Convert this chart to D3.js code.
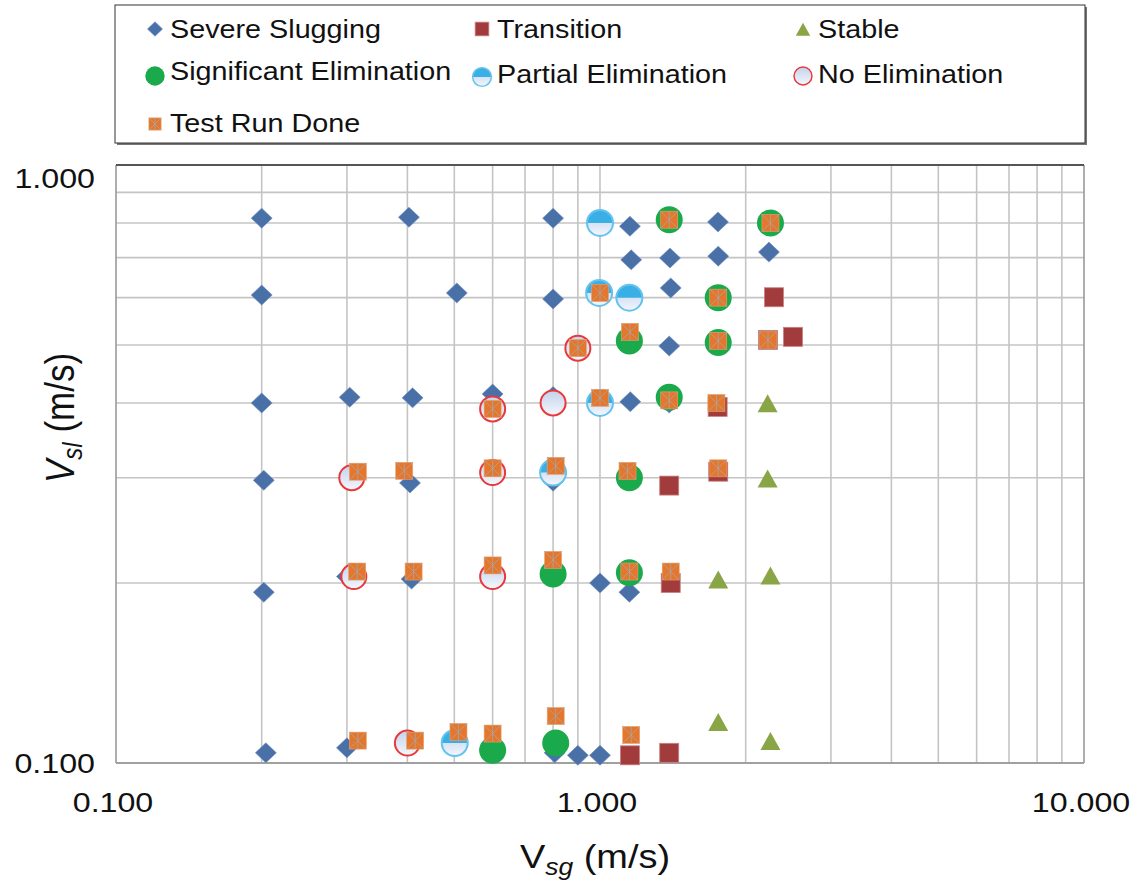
<!DOCTYPE html>
<html><head><meta charset="utf-8">
<script src="https://cdn.jsdelivr.net/npm/d3@7"></script>
<style>
body{margin:0;background:#fff}
svg{display:block}
text{font-family:"Liberation Sans",Arial,Helvetica,sans-serif;fill:#111}
</style>
</head><body><svg id="c" width="1148" height="882"></svg>
<script>
// ---------- DATA (Vsg, Vsl in m/s) ----------
const seriesNames = ["Severe Slugging","Transition","Stable","Significant Elimination","Partial Elimination","No Elimination","Test Run Done"];

const severeVsg = [0.20,0.20,0.20,0.202,0.202,0.204,0.304,0.30,0.30,0.403,0.41,0.405,0.408,0.506,0.60,0.80,0.80,0.80,0.80,0.806,0.90,1.0,1.0,1.153,1.16,1.155,1.15,1.395,1.40,1.39,1.39,1.753,1.755,2.234];
const severeVsl = [0.815,0.606,0.40,0.297,0.193,0.104,0.409,0.106,0.205,0.818,0.408,0.294,0.203,0.611,0.414,0.815,0.597,0.41,0.296,0.104,0.103,0.103,0.20,0.79,0.694,0.402,0.193,0.699,0.623,0.498,0.40,0.803,0.704,0.715];

const transVsg = [2.288,2.505,2.224,1.75,1.39,1.755,1.40,1.153,1.39];
const transVsl = [0.601,0.516,0.51,0.394,0.291,0.307,0.20,0.103,0.104];

const stableVsg = [2.22,2.22,1.755,2.25,1.755,2.25];
const stableVsl = [0.398,0.298,0.202,0.205,0.1166,0.1084];

const sigVsg = [1.39,2.25,1.755,1.15,1.755,1.39,1.15,0.80,1.15,0.81,0.60];
const sigVsl = [0.81,0.80,0.60,0.508,0.505,0.409,0.30,0.207,0.208,0.108,0.105];

const partVsg = [1.0,0.996,1.15,1.0,0.80,0.501];
const partVsl = [0.80,0.611,0.60,0.40,0.306,0.108];

const noVsg = [0.90,0.60,0.80,0.307,0.60,0.31,0.60,0.40];
const noVsl = [0.494,0.391,0.40,0.30,0.306,0.205,0.205,0.108];

const testVsg = [1.39,2.25,1.0,1.755,1.153,1.755,2.224,0.90,1.0,1.39,1.74,0.60,
                 0.316,0.394,0.60,0.81,1.14,1.755,
                 0.315,0.412,0.60,0.80,1.15,1.40,
                 0.316,0.415,0.51,0.60,0.81,1.16];
const testVsl = [0.81,0.80,0.611,0.60,0.526,0.508,0.51,0.494,0.408,0.404,0.40,0.391,
                 0.307,0.308,0.311,0.314,0.308,0.311,
                 0.209,0.209,0.214,0.2186,0.209,0.209,
                 0.109,0.109,0.1127,0.112,0.1198,0.1114];

const xTickValues = [0.1,1,10];
const xTickLabels = ["0.100","1.000","10.000"];
const yTickValues = [0.1,1];
const yTickLabels = ["0.100","1.000"];

// ---------- SETUP ----------
const svg = d3.select("#c");
const SX = 1.15; // horizontal stretch of the text in the reference
const x = d3.scaleLog().domain([0.1,10]).range([116,1084]);
const y = d3.scaleLog().domain([0.1,1]).range([763,165]);

const defs = svg.append("defs");
const g1 = defs.append("linearGradient").attr("id","lightFill").attr("x1",0).attr("y1",0).attr("x2",0).attr("y2",1);
g1.append("stop").attr("offset","0%").attr("stop-color","#c3d2ec");
g1.append("stop").attr("offset","100%").attr("stop-color","#f4f7fc");
const g2 = defs.append("linearGradient").attr("id","partFill").attr("x1",0).attr("y1",0).attr("x2",0).attr("y2",1);
g2.append("stop").attr("offset","0%").attr("stop-color","#b9cdee");
g2.append("stop").attr("offset","100%").attr("stop-color","#f4f7fc");

function stext(parent, px, py, str, size, anchor){
  const g = parent.append("g").attr("transform",`translate(${px},${py}) scale(${SX},1)`);
  return g.append("text").attr("font-size",size).attr("text-anchor",anchor||"start").text(str);
}

// ---------- MARKERS ----------
function diamond(g, s){ g.append("path").attr("d",`M0,${-10*s}L${10.5*s},0L0,${10*s}L${-10.5*s},0Z`).attr("fill","#4a70a8").attr("stroke","#6f8fc0").attr("stroke-width",0.6); }
function transSq(g, s){ const h=9.5*s; g.append("rect").attr("x",-h).attr("y",-h).attr("width",2*h).attr("height",2*h).attr("fill","#a23b3b").attr("stroke","#c98080").attr("stroke-width",0.8); }
function triangle(g, s){ g.append("path").attr("d",`M0,${-10*s}L${10*s},${8*s}L${-10*s},${8*s}Z`).attr("fill","#89a546"); }
function sigCirc(g, s){ g.append("circle").attr("r",13.5*s).attr("fill","#1aaa4b"); }
function partCirc(g, s){
  const r=13*s;
  g.append("circle").attr("r",r).attr("fill","url(#partFill)");
  g.append("path").attr("d",`M${-r},0A${r},${r} 0 0 1 ${r},0Z`).attr("fill","#3aafe5");
  g.append("circle").attr("r",r).attr("fill","none").attr("stroke","#62c3ef").attr("stroke-width",2*s);
}
function noCirc(g, s){
  const r=12.5*s;
  g.append("circle").attr("r",r).attr("fill","url(#lightFill)").attr("stroke","#e8383c").attr("stroke-width",2*s);
}
function testSq(g, s){
  const h=8.5*s;
  g.append("rect").attr("x",-h).attr("y",-h).attr("width",2*h).attr("height",2*h).attr("fill","#e4772b").attr("stroke","#e9a070").attr("stroke-width",0.6);
  const p=`M${-h},${-h}L${h},${h}M${h},${-h}L${-h},${h}M0,${-h}L0,${h}`;
  g.append("path").attr("d",p).attr("stroke","#a8a4a8").attr("stroke-width",1).attr("opacity",0.85).attr("fill","none");
}
const markerFns = [diamond, transSq, triangle, sigCirc, partCirc, noCirc, testSq];
const seriesX = [severeVsg, transVsg, stableVsg, sigVsg, partVsg, noVsg, testVsg];
const seriesY = [severeVsl, transVsl, stableVsl, sigVsl, partVsl, noVsl, testVsl];

// ---------- PLOT AREA ----------
const [x0,x1] = x.range(); const [y0,y1] = y.range();
svg.append("rect").attr("x",x0).attr("y",y1).attr("width",x1-x0).attr("height",y0-y1).attr("fill","#fff");

const grid = svg.append("g");
x.ticks().filter(v=>v>0.1+1e-9 && v<10-1e-9).forEach(v=>{
  grid.append("line").attr("x1",x(v)).attr("x2",x(v)).attr("y1",y1).attr("y2",y0)
    .attr("stroke","#c4c4c4").attr("stroke-width",1.6);
});
y.ticks().filter(v=>v>0.1+1e-9 && v<1-1e-9).forEach(v=>{
  grid.append("line").attr("x1",x0).attr("x2",x1).attr("y1",y(v)).attr("y2",y(v))
    .attr("stroke","#c4c4c4").attr("stroke-width",1.6);
});
// frame
svg.append("line").attr("x1",x0).attr("x2",x0).attr("y1",y1).attr("y2",y0).attr("stroke","#9a9a9a").attr("stroke-width",1.6);
svg.append("line").attr("x1",x1).attr("x2",x1).attr("y1",y1).attr("y2",y0).attr("stroke","#9a9a9a").attr("stroke-width",1.6);
svg.append("line").attr("x1",x0).attr("x2",x1).attr("y1",y0).attr("y2",y0).attr("stroke","#a0a0a0").attr("stroke-width",2);
svg.append("line").attr("x1",x0).attr("x2",x1).attr("y1",y1).attr("y2",y1).attr("stroke","#555").attr("stroke-width",2.2);

// ---------- POINTS ----------
seriesX.forEach((xs,i)=>{
  const sg = svg.append("g");
  xs.forEach((vx,j)=>{
    const g = sg.append("g").attr("transform",`translate(${x(vx)},${y(seriesY[i][j])})`);
    markerFns[i](g,1);
  });
});

// ---------- AXIS LABELS ----------
xTickValues.forEach((v,i)=>{ stext(svg, x(v)-3, 812, xTickLabels[i], 28, "middle"); });
yTickValues.forEach((v,i)=>{ stext(svg, 95, y(v)+(v===1?23:10), yTickLabels[i], 28, "end"); });

// x title
const xt = svg.append("g").attr("transform",`translate(595,868) scale(${SX},1)`)
  .append("text").attr("font-size",33).attr("text-anchor","middle");
xt.append("tspan").text("V");
xt.append("tspan").attr("font-size",23).attr("font-style","italic").attr("dy",7).text("sg");
xt.append("tspan").attr("dy",-7).text(" (m/s)");

// y title
const yt = svg.append("g").attr("transform",`translate(74,418) scale(${SX},1) rotate(-90)`)
  .append("text").attr("font-size",35).attr("text-anchor","middle");
yt.append("tspan").attr("font-style","italic").text("V");
yt.append("tspan").attr("font-size",24).attr("font-style","italic").attr("dy",7).text("sl");
yt.append("tspan").attr("dy",-7).text(" (m/s)");

// ---------- LEGEND ----------
const leg = svg.append("g");
leg.append("rect").attr("x",117).attr("y",7).attr("width",970).attr("height",138).attr("fill","#777");
leg.append("rect").attr("x",115).attr("y",5).attr("width",970).attr("height",138).attr("fill","#fff").attr("stroke","#333").attr("stroke-width",1);
const legMX = [155,482,803,155,482,803,155];
const legMY = [29,29,30,76,77,76,124];
const legTY = [38,38,38,80,83,83,132];
seriesNames.forEach((name,i)=>{
  const g = leg.append("g").attr("transform",`translate(${legMX[i]},${legMY[i]})`);
  markerFns[i](g,0.72);
  stext(leg, legMX[i]+15, legTY[i], name, 25, "start");
});
</script></body></html>
